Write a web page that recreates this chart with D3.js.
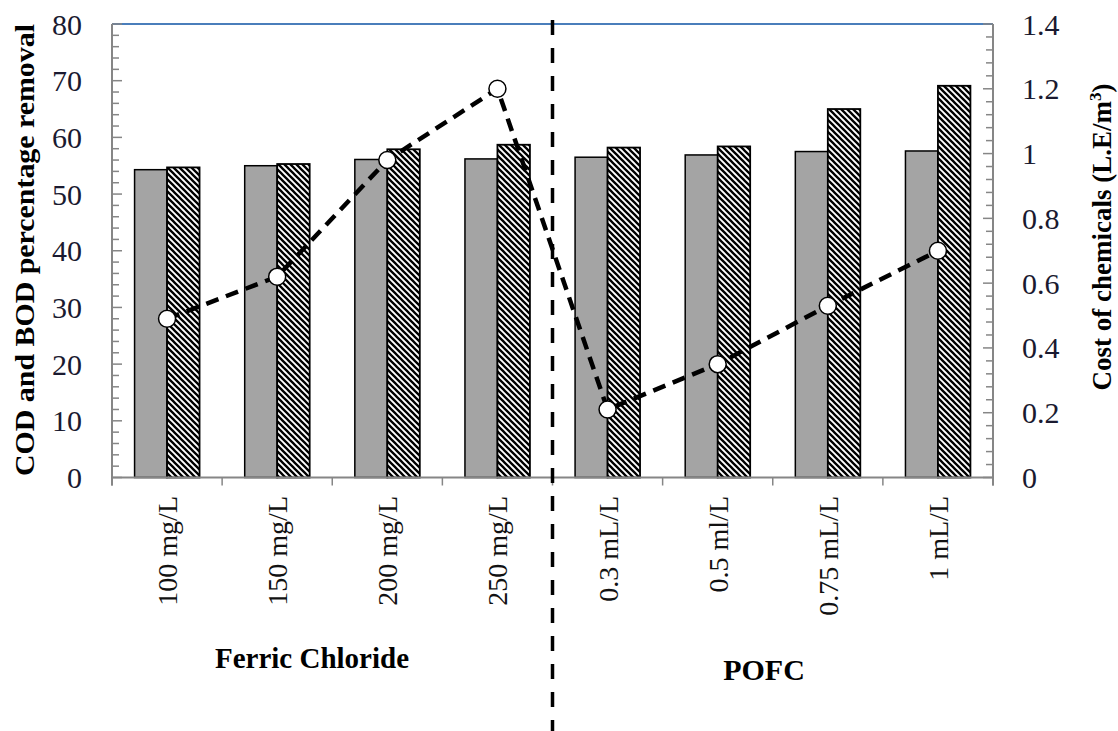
<!DOCTYPE html>
<html><head><meta charset="utf-8">
<script src="https://cdn.jsdelivr.net/npm/d3@7"></script>
<style>html,body{margin:0;padding:0;background:#fff;}svg{display:block;}</style>
</head><body>
<svg id="chart" width="1118" height="731"></svg>
<script>
const categories = ["100 mg/L","150 mg/L","200 mg/L","250 mg/L","0.3 mL/L","0.5 ml/L","0.75 mL/L","1 mL/L"];
const codRemoval = [54.3, 55.0, 56.1, 56.2, 56.5, 56.9, 57.5, 57.6];
const bodRemoval = [54.7, 55.3, 57.9, 58.7, 58.2, 58.4, 65.0, 69.1];
const costValues = [0.49, 0.62, 0.98, 1.20, 0.21, 0.35, 0.53, 0.70];
const leftTicks = [0,10,20,30,40,50,60,70,80];
const rightTicks = [0,0.2,0.4,0.6,0.8,1,1.2,1.4];
const groupLabels = ["Ferric Chloride","POFC"];

const svg = d3.select("#chart");
const L = 112, R = 993, T = 24, B = 477.5;
const serif = "'Liberation Serif','Times New Roman',serif";

const x0 = d3.scaleBand().domain(categories).range([L, R]).paddingInner(0.41).paddingOuter(0.205);
const x1 = d3.scaleBand().domain(["cod","bod"]).range([0, x0.bandwidth()]);
const xc = d3.scalePoint().domain(categories).range([L, R]).padding(0.5);
const yL = d3.scaleLinear().domain([0,80]).range([B, T]);
const yR = d3.scaleLinear().domain([0,1.4]).range([B, T]);

const defs = svg.append("defs");
const P = 6;
const pat = defs.append("pattern").attr("id","hatch").attr("patternUnits","userSpaceOnUse")
  .attr("width",P).attr("height",P);
pat.append("rect").attr("width",P).attr("height",P).attr("fill","#fff");
pat.append("path").attr("d",`M0,0L${P},${P}M-2,${P-2}L2,${P+2}M${P-2},-2L${P+2},2`).attr("stroke","#000").attr("stroke-width",2.3);

// bars
const g = svg.append("g");
categories.forEach((c,i)=>{
  g.append("rect").attr("x", x0(c)+x1("cod")).attr("y", yL(codRemoval[i]))
    .attr("width", x1.bandwidth()).attr("height", B - yL(codRemoval[i]))
    .attr("fill","#a4a4a4").attr("stroke","#000").attr("stroke-width",1.5);
  g.append("rect").attr("x", x0(c)+x1("bod")).attr("y", yL(bodRemoval[i]))
    .attr("width", x1.bandwidth()).attr("height", B - yL(bodRemoval[i]))
    .attr("fill","url(#hatch)").attr("stroke","#000").attr("stroke-width",1.8);
});

// top border
svg.append("line").attr("x1",L).attr("x2",R).attr("y1",T).attr("y2",T)
  .attr("stroke","#4a7ebb").attr("stroke-width",2);

// left axis
const axisColor = "#868686";
const gl = svg.append("g").attr("transform",`translate(${L},0)`);
gl.append("line").attr("x1",0).attr("x2",0).attr("y1",T).attr("y2",B+8).attr("stroke",axisColor).attr("stroke-width",2);
d3.range(0,81,2).forEach(v=>{
  const major = v % 10 === 0;
  gl.append("line").attr("x1",0).attr("x2", major?10:7).attr("y1",yL(v)).attr("y2",yL(v))
    .attr("stroke",axisColor).attr("stroke-width",1.5);
});
svg.append("g").selectAll("text").data(leftTicks).join("text")
  .attr("x",82).attr("y",d=>yL(d)).attr("dy","0.35em").attr("text-anchor","end")
  .attr("font-family",serif).attr("font-size",30).attr("fill","#1a1a30").text(d=>d);

// right axis
const gr = svg.append("g").attr("transform",`translate(${R},0)`);
gr.append("line").attr("x1",0).attr("x2",0).attr("y1",T).attr("y2",B+8).attr("stroke",axisColor).attr("stroke-width",2);
d3.range(0,36).forEach(k=>{
  const v = k*0.04;
  const major = k % 5 === 0;
  gr.append("line").attr("x1",0).attr("x2", major?-10:-7).attr("y1",yR(v)).attr("y2",yR(v))
    .attr("stroke",axisColor).attr("stroke-width",1.5);
});
svg.append("g").selectAll("text").data(rightTicks).join("text")
  .attr("x",1022).attr("y",d=>yR(d)).attr("dy","0.35em").attr("text-anchor","start")
  .attr("font-family",serif).attr("font-size",30).attr("fill","#1a1a30").text(d=>d3.format("~g")(d));

// x axis
svg.append("line").attr("x1",L).attr("x2",R).attr("y1",B).attr("y2",B).attr("stroke",axisColor).attr("stroke-width",2);
d3.range(0,9).forEach(k=>{
  const xv = L + k*(R-L)/8;
  svg.append("line").attr("x1",xv).attr("x2",xv).attr("y1",B).attr("y2",B+8).attr("stroke",axisColor).attr("stroke-width",1.5);
});
svg.append("g").selectAll("text").data(categories).join("text")
  .attr("transform",d=>`translate(${xc(d)+10},496) rotate(-90)`)
  .attr("text-anchor","end").attr("font-family",serif).attr("font-size",28).attr("fill","#111")
  .text(d=>d);

// separator
const sepX = L + 4*(R-L)/8;
svg.append("line").attr("x1",sepX).attr("x2",sepX).attr("y1",20).attr("y2",731)
  .attr("stroke","#000").attr("stroke-width",3.5).attr("stroke-dasharray","15,13");

// cost line
const line = d3.line().x((d,i)=>xc(categories[i])).y(d=>yR(d));
svg.append("path").datum(costValues).attr("d",line).attr("fill","none")
  .attr("stroke","#000").attr("stroke-width",4.5).attr("stroke-dasharray","13,8");
svg.append("g").selectAll("circle").data(costValues).join("circle")
  .attr("cx",(d,i)=>xc(categories[i])).attr("cy",d=>yR(d)).attr("r",8.5)
  .attr("fill","#fff").attr("stroke","#000").attr("stroke-width",1.5);

// axis titles
svg.append("text").attr("transform","translate(34,250) rotate(-90)").attr("text-anchor","middle")
  .attr("font-family",serif).attr("font-weight","bold").attr("font-size",28).attr("fill","#000")
  .attr("textLength",452).attr("lengthAdjust","spacingAndGlyphs")
  .text("COD and BOD percentage removal");
const rt = svg.append("text").attr("transform","translate(1111,237) rotate(-90)").attr("text-anchor","middle")
  .attr("font-family",serif).attr("font-weight","bold").attr("font-size",27).attr("fill","#000");
rt.append("tspan").text("Cost of chemicals (L.E/m");
rt.append("tspan").attr("font-size",17).attr("dy",-10).text("3");
rt.append("tspan").attr("dy",10).text(")");

// group labels
svg.append("text").attr("x",312).attr("y",668).attr("text-anchor","middle")
  .attr("font-family",serif).attr("font-weight","bold").attr("font-size",29).attr("fill","#000").text(groupLabels[0]);
svg.append("text").attr("x",764).attr("y",680).attr("text-anchor","middle")
  .attr("font-family",serif).attr("font-weight","bold").attr("font-size",30).attr("fill","#000").text(groupLabels[1]);
</script>
</body></html>
